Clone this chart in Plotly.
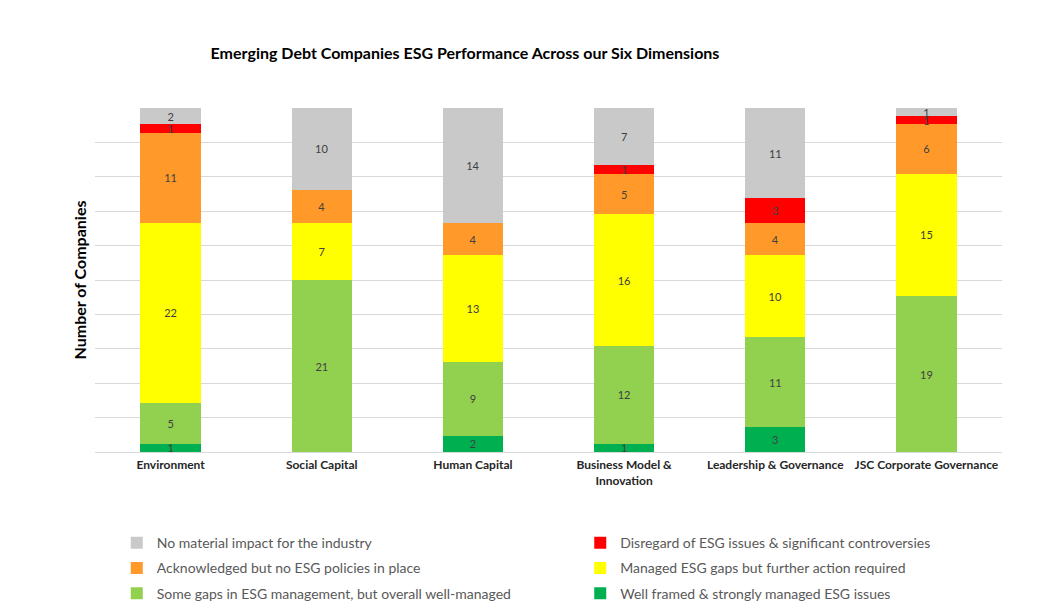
import plotly.graph_objects as go

categories = ["Environment", "Social Capital", "Human Capital",
              "Business Model &<br>Innovation", "Leadership & Governance",
              "JSC Corporate Governance"]

# series in stack order (bottom to top)
well_framed = [1, 0, 2, 1, 3, 0]
some_gaps = [5, 21, 9, 12, 11, 19]
managed_gaps = [22, 7, 13, 16, 10, 15]
acknowledged = [11, 4, 4, 5, 4, 6]
disregard = [1, 0, 0, 1, 3, 1]
no_material = [2, 10, 14, 7, 11, 1]

series = [
    ("Well framed & strongly managed ESG issues", well_framed, "#00b050", "legend2", 6),
    ("Some gaps in ESG management, but overall well-managed", some_gaps, "#92d050", "legend", 5),
    ("Managed ESG gaps but further action required", managed_gaps, "#ffff00", "legend2", 4),
    ("Acknowledged but no ESG policies in place", acknowledged, "#ff9a2a", "legend", 3),
    ("Disregard of ESG issues & significant controversies", disregard, "#ff0000", "legend2", 2),
    ("No material impact for the industry", no_material, "#c9c9c9", "legend", 1),
]

FONT = "Lato, 'Open Sans', sans-serif"

fig = go.Figure()
for name, vals, color, leg, rank in series:
    fig.add_trace(go.Bar(
        x=categories, y=vals, name=name,
        marker=dict(color=color, line=dict(width=0)),
        text=[str(v) if v else "" for v in vals],
        textposition="inside", insidetextanchor="middle", textangle=0,
        constraintext="none",
        textfont=dict(family=FONT, size=11, color="#404040"),
        legend=leg, legendrank=rank, legendgroup=name,
        hoverinfo="x+y+name",
    ))

legend_common = dict(
    orientation="v", xanchor="left", yanchor="top",
    font=dict(family=FONT, size=14, color="#595959"),
    bgcolor="rgba(0,0,0,0)", tracegroupgap=4, itemwidth=30,
    traceorder="grouped",
)

fig.update_layout(
    width=1058, height=612,
    margin=dict(l=87, r=64, t=100, b=167),
    paper_bgcolor="white", plot_bgcolor="white",
    barmode="stack", bargap=0.6,
    font=dict(family=FONT),
    title=dict(text="<b>Emerging Debt Companies ESG Performance Across our Six Dimensions</b>",
               x=457 / 1058, xref="container", xanchor="center",
               y=1 - 45 / 612, yref="container", yanchor="middle",
               font=dict(family=FONT, size=16, color="#000000")),
    xaxis=dict(showgrid=False, showline=False, ticks="",
               tickfont=dict(family=FONT, size=12, color="#262626"),
               ticklabelstandoff=4,
               tickvals=categories,
               ticktext=["<b>" + c + "</b>" for c in categories]),
    yaxis=dict(range=[0, 42], dtick=4.2, tick0=0, showticklabels=False,
               showgrid=True, gridcolor="#d9d9d9", gridwidth=1,
               zeroline=True, zerolinecolor="#d9d9d9", zerolinewidth=1,
               title=dict(text="<b>Number of Companies</b>", standoff=3,
                          font=dict(family=FONT, size=16, color="#000000"))),
    legend=dict(legend_common, x=0.024, y=-0.215),
    legend2=dict(legend_common, x=0.535, y=-0.215),
    showlegend=True,
)

fig.write_html("out.html")
